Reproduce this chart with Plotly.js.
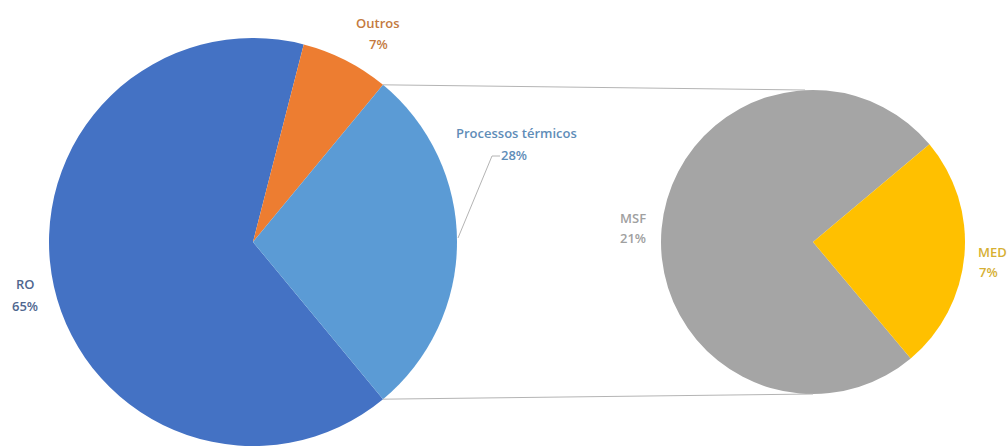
<!DOCTYPE html>
<html>
<head>
<meta charset="utf-8">
<script src="https://cdn.plot.ly/plotly-3.0.1.min.js"></script>
<style>html,body{margin:0;padding:0;background:#fff;}#chart{width:1008px;height:446px;}</style>
</head>
<body>
<div id="chart"></div>
<script>
// ---- data ----
const mainLabels = ["RO", "Outros", "Processos térmicos"];
const mainValues = [65, 7, 28];
const mainText = ["65%", "7%", "28%"];
const secLabels = ["MSF", "MED"];
const secValues = [21, 7];
const secText = ["21%", "7%"];

// ---- styles / geometry ----
const W = 1008, H = 446;
const mainColors = ["#4472C4", "#ED7D31", "#5B9BD5"];
const secColors = ["#A5A5A5", "#FFC000"];
const labelColors = {RO: "#50678f", Outros: "#c47a40", Proc: "#5f8db8", MSF: "#a0a0a0", MED: "#d6b033"};
const mainC = {x: 253, y: 242, r: 204};
const secC = {x: 813, y: 242, r: 152};

const px = x => x / W;
const py = y => 1 - y / H;

const total = mainValues.reduce((a, b) => a + b, 0);
const procFrac = mainValues[2] / total;
const halfDeg = procFrac * 360 / 2;
// clockwise from 12 o'clock; Processos centred at 3 o'clock
let mainRot = 90 - halfDeg - (mainValues[0] + mainValues[1]) / total * 360;
if (mainRot < -360) mainRot += 360;

function domainSq(c) {
  return {x: [px(c.x - c.r), px(c.x + c.r)], y: [py(c.y + c.r), py(c.y - c.r)]};
}

const traces = [
  {
    type: "pie", labels: mainLabels, values: mainValues, sort: false,
    direction: "clockwise", rotation: mainRot,
    marker: {colors: mainColors, line: {width: 0}},
    textinfo: "none", hoverinfo: "skip", showlegend: false,
    domain: domainSq(mainC)
  },
  {
    type: "pie", labels: secLabels, values: secValues, sort: false,
    direction: "clockwise", rotation: 140,
    marker: {colors: secColors, line: {width: 0}},
    textinfo: "none", hoverinfo: "skip", showlegend: false,
    domain: domainSq(secC)
  }
];

// connector lines from Processos slice edges to secondary pie
const a = halfDeg * Math.PI / 180;
const up = {x: mainC.x + mainC.r * Math.cos(a), y: mainC.y - mainC.r * Math.sin(a)};
const lo = {x: mainC.x + mainC.r * Math.cos(a), y: mainC.y + mainC.r * Math.sin(a)};
const lineStyle = {color: "#b4b4b4", width: 1};
const shapes = [
  {type: "line", xref: "paper", yref: "paper", x0: px(up.x), y0: py(up.y), x1: px(secC.x - 8), y1: py(secC.y - secC.r), line: lineStyle},
  {type: "line", xref: "paper", yref: "paper", x0: px(lo.x), y0: py(lo.y), x1: px(secC.x), y1: py(secC.y + secC.r), line: lineStyle},
  // leader line for Processos label
  {type: "path", xref: "paper", yref: "paper",
   path: `M ${px(mainC.x + mainC.r + 1)} ${py(238)} L ${px(492)} ${py(156)} L ${px(500)} ${py(156)}`,
   line: {color: "#b4b4b4", width: 1}}
];

const F = "Open Sans, Arial, sans-serif";
function ann(text, x, y, color) {
  return {text: text, x: px(x), y: py(y), xref: "paper", yref: "paper", showarrow: false,
          xanchor: "center", yanchor: "middle", font: {family: F, size: 13, color: color, weight: 600}};
}
const annotations = [
  ann(mainLabels[0], 25, 284, labelColors.RO), ann(mainText[0], 25, 306, labelColors.RO),
  ann(mainLabels[1], 378, 23, labelColors.Outros), ann(mainText[1], 378, 44, labelColors.Outros),
  ann(mainLabels[2], 516, 133, labelColors.Proc), ann(mainText[2], 514, 155, labelColors.Proc),
  ann(secLabels[0], 633, 218, labelColors.MSF), ann(secText[0], 633, 238, labelColors.MSF),
  ann(secLabels[1], 992, 252, labelColors.MED), ann(secText[1], 988, 272, labelColors.MED)
];

Plotly.newPlot("chart", traces, {
  width: W, height: H, margin: {l: 0, r: 0, t: 0, b: 0},
  paper_bgcolor: "#ffffff", plot_bgcolor: "#ffffff",
  shapes: shapes, annotations: annotations, showlegend: false
}, {displayModeBar: false, staticPlot: true});
</script>
</body>
</html>
